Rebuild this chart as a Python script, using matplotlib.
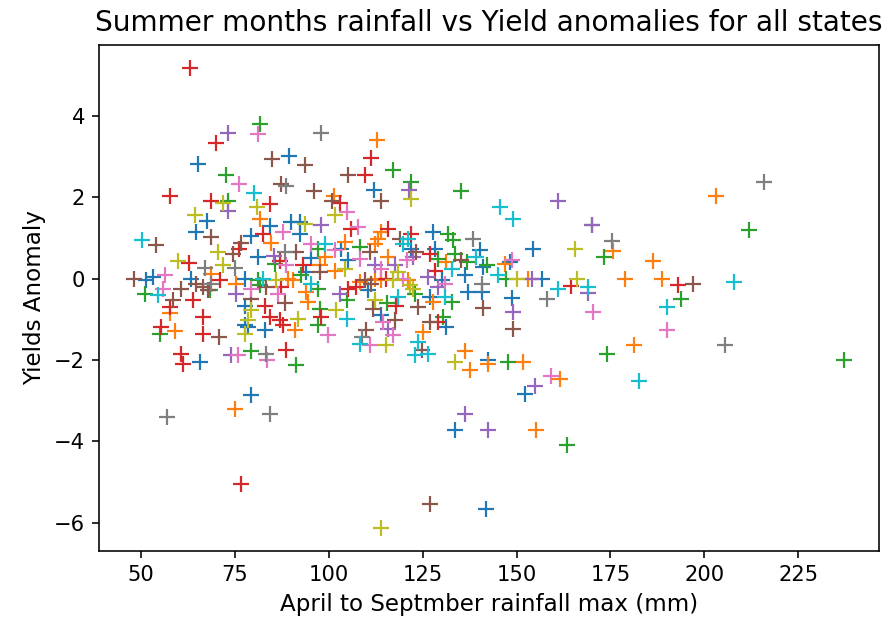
import matplotlib
matplotlib.use("Agg")
import matplotlib.pyplot as plt

blue_x = [67.5, 84.2, 65.0, 89.5, 112.0, 90.0, 92.2, 64.7, 79.3, 81.1, 51.3, 53.1, 63.3, 65.6, 77.6, 77.6, 77.6, 78.4, 82.9, 92.2, 127.8, 95.3, 103.3, 105.1, 94.0, 110.4, 122.0, 128.2, 130.0, 126.9, 114.0, 131.3, 140.2, 154.4, 141.1, 148.2, 136.2, 156.7, 137.1, 140.7, 148.7, 142.4, 79.3, 133.6, 152.2, 141.8]
blue_y = [1.43, 1.30, 2.83, 3.01, 2.17, 1.39, 1.39, 1.16, 1.06, 0.53, -0.04, 0.04, 0.0, -2.06, 0.0, -0.67, -1.15, -1.18, -1.27, 1.11, 1.15, 0.51, 0.74, 0.45, 0.16, -0.29, 0.74, 0.74, -0.04, -0.45, -0.90, -1.19, 0.70, 0.72, 0.29, 0.41, 0.08, -0.02, -0.33, -0.33, -0.47, -2.0, -2.87, -3.73, -2.83, -5.67]

orange_x = [112.7, 101.4, 81.7, 84.7, 68.7, 57.6, 58.9, 75.3, 114.0, 113.1, 112.2, 98.9, 104.2, 97.6, 101.5, 115.8, 131.3, 89.1, 90.4, 94.0, 94.5, 108.2, 112.2, 114.0, 121.1, 127.8, 90.9, 125.1, 175.8, 178.9, 146.9, 153.1, 136.2, 142.4, 151.8, 74.9, 137.6, 161.5, 155.3, 203.2, 186.4, 188.8, 181.4]
orange_y = [3.42, 2.03, 1.47, 0.88, 0.12, -0.84, -1.29, -0.12, 1.15, 0.98, 0.86, 0.53, 0.90, 0.33, 0.20, 0.53, 0.41, 0.0, -0.04, -0.33, -0.57, -0.08, 0.0, -0.04, -0.04, -0.57, -1.27, -1.31, 0.67, -0.02, 0.37, -0.02, -1.79, -2.09, -2.06, -3.21, -2.25, -2.47, -3.73, 2.03, 0.43, -0.02, -1.62]

green_x = [81.7, 72.5, 73.1, 117.1, 122.0, 135.3, 170.0, 85.6, 50.9, 68.2, 55.1, 81.1, 81.6, 79.3, 108.2, 131.8, 133.1, 97.1, 129.1, 133.6, 92.7, 97.1, 104.7, 122.9, 132.7, 115.6, 97.6, 97.1, 130.5, 91.3, 173.4, 136.7, 142.0, 147.3, 174.0, 147.8, 163.3, 211.8, 193.8, 237.1]
green_y = [3.81, 2.56, 1.92, 2.66, 2.38, 2.15, 1.31, 0.37, -0.37, -0.29, -1.35, -0.04, -0.16, -1.79, 0.78, 1.11, 0.94, 0.74, 0.49, 0.61, 0.08, -0.25, -0.53, -0.37, -0.57, -0.61, -0.74, -1.15, -0.94, -2.13, 0.53, 0.41, 0.33, 0.0, -1.84, -2.06, -4.08, 1.19, -0.49, -2.01]

red_x = [63.1, 70.0, 57.6, 68.6, 84.2, 111.3, 109.7, 102.9, 62.6, 76.1, 82.4, 86.9, 70.9, 63.8, 66.5, 55.3, 66.5, 60.7, 61.1, 88.7, 87.3, 82.9, 84.2, 86.9, 87.8, 57.8, 106.0, 115.8, 122.0, 93.1, 126.9, 128.2, 105.1, 107.3, 115.3, 118.0, 98.0, 129.1, 164.5, 76.7, 193.1]
red_y = [5.18, 3.34, 2.04, 1.92, 1.84, 2.96, 2.56, 1.87, 0.39, 0.72, 1.11, 0.43, -0.04, -0.53, -0.94, -1.19, -1.35, -1.84, -2.10, -1.76, -0.20, -0.67, -0.94, -1.02, -1.15, -0.70, 1.23, 1.21, 1.11, 0.33, 0.61, 0.20, -0.25, -0.20, 0.0, -0.66, -0.94, -1.06, -0.18, -5.04, -0.16]

purple_x = [73.0, 73.1, 121.4, 97.8, 160.9, 170.0, 85.4, 75.3, 112.2, 117.6, 122.4, 126.4, 129.1, 102.9, 115.8, 154.2, 169.1, 149.1, 154.9, 136.2, 142.4, 74.0]
purple_y = [3.59, 1.66, 2.17, 1.33, 1.92, 1.31, 0.56, -0.37, 0.33, 0.33, 0.53, 0.04, -0.20, -0.37, -1.23, -0.02, -0.34, -0.82, -2.64, -3.32, -3.73, -1.88]

brown_x = [84.8, 87.3, 93.6, 105.1, 96.0, 114.0, 100.7, 54.0, 68.5, 74.4, 76.7, 48.2, 60.7, 58.4, 64.7, 66.5, 67.8, 70.6, 83.3, 79.3, 88.2, 118.9, 91.3, 110.9, 97.6, 123.3, 109.5, 111.3, 111.8, 117.6, 110.0, 123.8, 126.9, 124.7, 135.3, 141.1, 149.1, 126.9, 196.9]
brown_y = [2.95, 2.32, 2.79, 2.54, 2.15, 1.91, 1.92, 0.84, 1.02, 0.61, 0.88, -0.02, -0.25, -0.53, -0.12, -0.20, -0.29, -1.43, -0.20, -0.49, -0.61, 0.98, 0.66, 0.66, 0.16, 0.66, -0.04, -0.12, -0.74, -1.02, -1.27, -0.70, -1.06, -1.76, 0.45, -0.72, -1.23, -5.55, -0.12]

pink_x = [81.1, 76.1, 104.8, 87.8, 88.7, 56.4, 55.8, 79.3, 86.4, 75.8, 83.6, 107.8, 95.3, 101.5, 108.2, 114.0, 120.7, 119.8, 130.9, 99.8, 114.4, 117.1, 110.9, 148.7, 170.4, 159.2, 190.0]
pink_y = [3.56, 2.32, 1.64, 1.15, 0.33, 0.10, -0.26, -0.25, -0.37, -1.88, -2.01, 1.27, 0.86, 0.70, 0.49, 0.25, 0.45, 0.0, -0.12, -1.39, -1.06, -1.39, -1.62, 0.45, -0.82, -2.39, -1.27]

gray_x = [88.7, 97.8, 66.9, 75.1, 88.2, 68.7, 83.3, 108.7, 138.4, 175.3, 140.7, 158.0, 56.9, 84.2, 216.0, 205.6]
gray_y = [2.29, 3.59, 0.26, 0.26, 0.66, -0.12, -1.84, -1.43, 0.97, 0.92, -0.12, -0.51, -3.40, -3.32, 2.37, -1.62]

olive_x = [71.8, 80.9, 64.4, 101.7, 93.7, 122.0, 70.4, 59.8, 71.8, 86.0, 79.3, 78.4, 77.6, 104.2, 118.4, 117.1, 121.6, 122.4, 112.2, 91.8, 102.0, 115.3, 133.6, 165.5, 150.0, 166.0, 114.0]
olive_y = [1.87, 1.76, 1.56, 1.56, 1.35, 1.97, 0.66, 0.43, 0.33, -0.04, -0.78, -1.02, -1.35, 0.25, 0.16, -0.04, -0.16, -0.25, -0.53, -0.98, -0.78, -1.64, -2.05, 0.72, -0.02, 0.0, -6.13]

cyan_x = [80.0, 145.6, 149.1, 50.2, 54.5, 82.4, 121.1, 98.9, 119.8, 132.7, 95.3, 130.9, 118.4, 104.7, 108.2, 123.8, 122.9, 126.4, 139.3, 145.1, 161.1, 169.1, 208.0, 190.0, 182.6]
cyan_y = [2.10, 1.76, 1.46, 0.94, -0.41, 0.0, 0.98, 0.86, 0.86, 0.25, -0.12, -0.45, -0.45, -0.98, -1.60, -1.56, -1.87, -1.84, 0.53, 0.10, -0.25, -0.20, -0.08, -0.70, -2.52]

series = [
    (blue_x, blue_y, "tab:blue"),
    (orange_x, orange_y, "tab:orange"),
    (green_x, green_y, "tab:green"),
    (red_x, red_y, "tab:red"),
    (purple_x, purple_y, "tab:purple"),
    (brown_x, brown_y, "tab:brown"),
    (pink_x, pink_y, "tab:pink"),
    (gray_x, gray_y, "tab:gray"),
    (olive_x, olive_y, "tab:olive"),
    (cyan_x, cyan_y, "tab:cyan"),
]

fig = plt.figure(figsize=(887 / 144, 630 / 144), dpi=144)
ax = fig.add_axes([99 / 887, 1 - 551 / 630, 780 / 887, 506 / 630])
for xs, ys, c in series:
    ax.plot(xs, ys, "+", color=c, markersize=8, markeredgewidth=1.1)

ax.set_xticks([50, 75, 100, 125, 150, 175, 200, 225])
ax.set_yticks([-6, -4, -2, 0, 2, 4])
ax.tick_params(labelsize=10.5)
ax.set_title("Summer months rainfall vs Yield anomalies for all states", fontsize=14, pad=7)
ax.set_xlabel("April to Septmber rainfall max (mm)", fontsize=11.5)
ax.set_ylabel("Yields Anomaly", fontsize=11.5)
fig.savefig("out.png", dpi=144)
